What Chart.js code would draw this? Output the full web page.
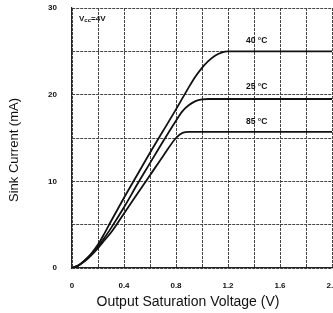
<!DOCTYPE html>
<html>
<head>
<meta charset="utf-8">
<script src="https://cdn.jsdelivr.net/npm/chart.js@4"></script>
<style>
  html, body { margin: 0; padding: 0; background: #fff; }
  #wrap { width: 333px; height: 313px; position: relative; }
</style>
</head>
<body>
<div id="wrap"><canvas id="chart" width="333" height="313"></canvas></div>
<script>
// ── Dados ─────────────────────────────────
const voltage = [0, 0.05, 0.1, 0.15, 0.2, 0.25, 0.3, 0.4, 0.5, 0.6, 0.7, 0.8, 0.85, 0.9, 0.95, 1.0, 1.05, 1.1, 1.15, 1.2, 1.4, 1.6, 1.8, 2.0];
const current40 = [0, 0.3, 0.9, 1.7, 2.7, 4.0, 5.4, 8.1, 10.7, 13.3, 15.8, 18.3, 19.6, 20.9, 22.1, 23.1, 23.9, 24.5, 24.85, 25.0, 25.0, 25.0, 25.0, 25.0];
const current25 = [0, 0.3, 0.9, 1.6, 2.5, 3.5, 4.6, 7.0, 9.6, 12.1, 14.6, 17.0, 18.1, 18.8, 19.25, 19.45, 19.5, 19.5, 19.5, 19.5, 19.5, 19.5, 19.5, 19.5];
const current85 = [0, 0.3, 0.8, 1.5, 2.3, 3.2, 4.1, 6.3, 8.5, 10.7, 12.9, 15.0, 15.6, 15.7, 15.7, 15.7, 15.7, 15.7, 15.7, 15.7, 15.7, 15.7, 15.7, 15.7];
const seriesNames = ['40 °C', '25 °C', '85 °C'];
const xTickLabels = ['0', '0.4', '0.8', '1.2', '1.6', '2.0'];
const yTickLabels = ['0', '10', '20', '30'];
const xTitle = 'Output Saturation Voltage (V)';
const yTitle = 'Sink Current (mA)';

const mkPts = ys => voltage.map((v, i) => ({ x: v, y: ys[i] }));
const mkDataset = (label, ys) => ({
  label, data: mkPts(ys),
  borderColor: '#111', borderWidth: 1.8,
  pointRadius: 0, fill: false,
  cubicInterpolationMode: 'monotone'
});

const FAM = '"Liberation Sans", Arial, sans-serif';

// ── Textos extras (rótulos das curvas, títulos) ──
const textos = {
  id: 'textos',
  afterDraw(chart) {
    const { ctx, scales: { x, y }, chartArea } = chart;
    ctx.save();
    ctx.fillStyle = '#111';
    ctx.textBaseline = 'middle';

    // rótulos das curvas
    ctx.font = 'bold 8.5px ' + FAM;
    ctx.textAlign = 'center';
    const pos = [[1.42, 26.2], [1.42, 20.9], [1.42, 16.9]];
    seriesNames.forEach((n, i) => ctx.fillText(n, x.getPixelForValue(pos[i][0]), y.getPixelForValue(pos[i][1])));

    // Vcc=4V
    ctx.textAlign = 'left';
    let px = chartArea.left + 7, py = chartArea.top + 11;
    ctx.font = 'bold 8px ' + FAM;
    ctx.fillText('V', px, py);
    px += ctx.measureText('V').width;
    ctx.font = 'bold 6px ' + FAM;
    ctx.fillText('cc', px, py + 1.5);
    px += ctx.measureText('cc').width;
    ctx.font = 'bold 8px ' + FAM;
    ctx.fillText('=4V', px, py);

    // títulos dos eixos
    ctx.font = '14px ' + FAM;
    ctx.textAlign = 'center';
    ctx.fillText(xTitle, 188, 302);
    ctx.font = '13px ' + FAM;
    ctx.translate(14, 150);
    ctx.rotate(-Math.PI / 2);
    ctx.fillText(yTitle, 0, 0);
    ctx.restore();
  }
};

const gridStyle = { color: '#444', lineWidth: 1, drawTicks: false };
const semPadding = s => { s.paddingLeft = 0; s.paddingRight = 0; s.paddingTop = 0; s.paddingBottom = 0; };

new Chart(document.getElementById('chart').getContext('2d'), {
  type: 'line',
  data: {
    datasets: [
      mkDataset(seriesNames[0], current40),
      mkDataset(seriesNames[1], current25),
      mkDataset(seriesNames[2], current85)
    ]
  },
  options: {
    responsive: false,
    animation: false,
    layout: { padding: { top: 8, right: 1, left: 0, bottom: 0 } },
    plugins: { legend: { display: false }, tooltip: { enabled: false } },
    scales: {
      x: {
        type: 'linear', min: 0, max: 2,
        afterFit: s => { s.height = 45; semPadding(s); },
        ticks: {
          stepSize: 0.2, padding: 13, color: '#111',
          maxRotation: 0, autoSkip: false,
          font: { size: 8, weight: 'bold', family: FAM },
          callback: (v, i) => i % 2 === 0 ? xTickLabels[i / 2] : ''
        },
        grid: { ...gridStyle },
        border: { color: '#222', width: 1.2, dash: [3, 1] }
      },
      y: {
        min: 0, max: 30,
        afterFit: s => { s.width = 72; semPadding(s); },
        ticks: {
          stepSize: 5, padding: 15, color: '#111', autoSkip: false,
          font: { size: 8, weight: 'bold', family: FAM },
          callback: (v, i) => i % 2 === 0 ? yTickLabels[i / 2] : ''
        },
        grid: { ...gridStyle },
        border: { color: '#222', width: 1.2, dash: [3, 1] }
      }
    }
  },
  plugins: [textos]
});
</script>
</body>
</html>
